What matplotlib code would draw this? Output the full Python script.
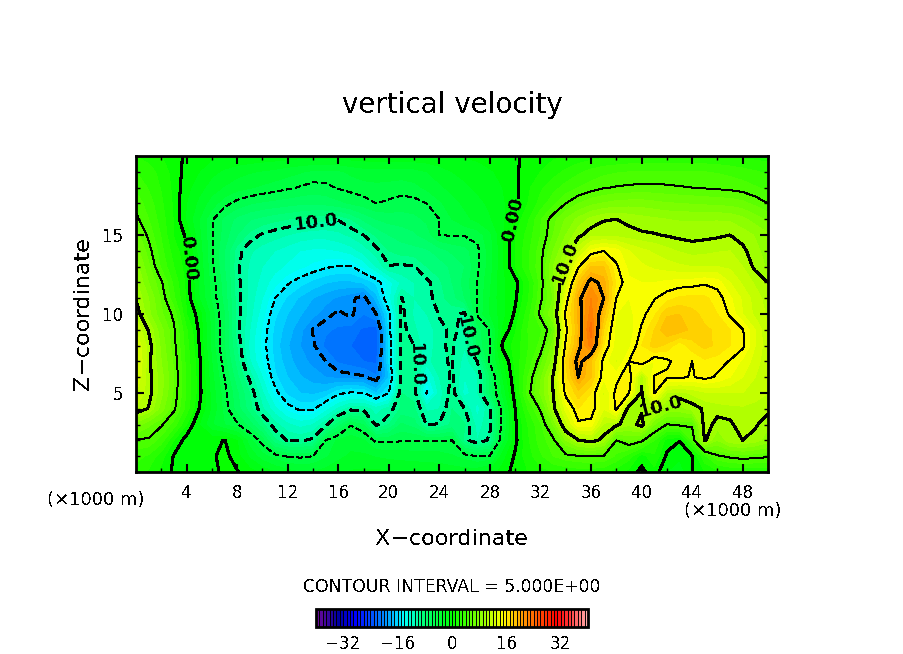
import numpy as np
import matplotlib
matplotlib.use("Agg")
import matplotlib.pyplot as plt
from matplotlib.colors import LinearSegmentedColormap

plt.rcParams["font.family"] = ["DejaVu Sans"]
plt.rcParams["text.antialiased"] = False

# vertical velocity, one list per height (km), x = 0..50 km
w_z00 = [2.5,1.8,.7,-.2,-.7,-.8,-.4,.3,.1,-.6,-1.3,-2,-2.6,-3,-2.9,-2.6,-2.2,-1.9,-1.8,-1.8,-1.9,-2,-2.1,-2.2,-2.3,-2.4,-2.5,-2.4,-1.7,-.5,.4,1,1.6,2,2.2,2.4,2.4,2.2,1.4,.6,-.3,.6,-1,-1.6,0,1,1.6,2,2.1,2.1,2]
w_z01 = [3.4,2.8,1.4,-.1,-.8,-.8,-.2,.4,-.6,-2.2,-3.6,-4.5,-5.1,-5.2,-5,-4.2,-3.3,-2.8,-2.8,-3.1,-3.3,-3.4,-3.5,-3.5,-3.6,-3.9,-4.4,-5,-4.8,-1.5,.2,1.5,2.8,4,4.6,4.9,5,4.9,3.8,2.5,.5,1.8,-.2,-.8,-.1,2.8,4.8,5.3,5.6,5.4,5.2]
w_z02 = [4.8,4.8,3.5,1,-.5,-.9,-.3,.05,-1,-3.6,-5.5,-8.8,-10.1,-10.2,-9.7,-5,-3.8,-3.5,-3.9,-5.3,-5.2,-5.1,-5.1,-5.1,-5.1,-5,-9.5,-11,-9.7,-3.5,-.3,1.8,3.5,4.6,8,9.9,10.5,9.6,5,6,5.3,3,.5,.05,4,10.2,8,9.6,10,9.4,8.5]
w_z03 = [7.5,6.2,5.2,3.5,1,-1,-2.9,-4,-4.8,-6.5,-8.7,-10.6,-11.8,-12.4,-12,-10.3,-7.5,-5.1,-6,-10.3,-9,-6.8,-7.5,-10.1,-9.9,-8.8,-8.9,-11.5,-10.3,-4.3,-.2,2,3.8,7,11.5,14.7,14.5,10.8,10.3,9.2,10.5,7,4.9,5.3,5.2,10.7,9.5,9.7,10.8,10.2,9.2]
w_z04 = [10.8,9.9,7.5,5.3,2.5,0,-2.2,-4.4,-6.5,-8.6,-10.8,-12.7,-14.4,-15.3,-15.2,-13.5,-11.8,-10.4,-10.4,-11.5,-10.6,-8.8,-8.8,-11.2,-11,-9,-10,-12.5,-10.2,-4,0,3,5.2,9.5,13.4,16,15.8,13,15.3,9,9.8,10.6,8.8,8.6,9.4,10.2,10.5,10.7,10.8,10.6,10.4]
w_z05 = [12,10.5,8.3,5.8,2.8,.4,-2.4,-4.6,-6.8,-9,-11.8,-14.5,-16.3,-17,-17.2,-16.8,-15.3,-14.8,-14.9,-17,-15,-9,-9.3,-15.2,-11.6,-9.4,-12.5,-11.2,-7,-2.8,.6,4.5,7.2,10,15.5,17.6,16,12.8,15.4,15.1,9.8,15.1,11,10.7,11.2,11.8,12,12,12,11.5,11]
w_z06 = [13,10.4,8.4,6,2.8,.4,-2.7,-5,-7.7,-10.3,-13,-15.8,-17,-17.9,-18.5,-19,-19.3,-19.5,-19.8,-20.8,-17,-9.5,-9.8,-13.5,-11,-9.8,-12,-11.2,-7,-2,1,4,6.8,10.2,16.5,20,18,14.2,14.6,16,10.3,15.1,15.3,15.2,14.9,15.4,14.8,14,13,12,11]
w_z07 = [13.5,10.4,8,5.8,2.6,.3,-3,-5.6,-8.5,-11.9,-14.1,-16.2,-17.6,-18.6,-19.3,-20,-21.2,-21.6,-22,-22.2,-16,-9.4,-9.8,-11.5,-10.2,-9.9,-11.5,-10,-4.7,-1.2,1.3,3.2,5.6,8.5,17,20.8,18,14.6,12.8,15,16,14,14.7,15.6,15,15.8,15.5,14.9,13.8,12.5,11.2]
w_z08 = [13,10.6,7.7,5.4,2.4,0,-3.4,-6,-9.1,-12.3,-14.4,-16.5,-17.9,-19,-19.8,-21.3,-21.8,-22,-22.6,-22.9,-16,-9.4,-10,-12,-10.1,-9.9,-10.9,-6.7,-5,.3,1.3,2.9,4.3,7.5,15.4,19.4,22.5,16,13.5,13.7,16,17.5,16.7,15.3,16.6,17.3,16.8,16,15.3,13,11.2]
w_z09 = [11.8,9.9,7.3,5.2,2.1,-.2,-3.4,-6,-9.6,-12,-14.2,-16.3,-17.5,-18.7,-20.1,-20.8,-21.2,-21.5,-22.2,-22.5,-15.8,-9.5,-10.8,-11.8,-10.3,-9.8,-10.3,-6.5,-4.9,-.9,.9,3,3.8,6.1,14.5,19,23.5,17,13.5,13.3,15.2,17,19,18.6,17.7,17.2,16.8,16,15.1,13,11]
w_z10 = [10.8,8.3,6.2,4.7,1,-.4,-3.5,-6,-9.4,-11.6,-13.6,-15.8,-17,-17.9,-18.7,-19.5,-20.3,-19.7,-21,-20,-15.5,-9.6,-11.2,-11,-9.9,-9.6,-10.3,-4.8,-3,-1.4,.2,2.5,5.4,8,15.5,19.3,22.5,18.5,14,13.7,14.6,15.8,17.8,18,17.4,16.6,16,14.8,13,11.7,10.8]
w_z11 = [9.9,8,5.8,3.2,.8,-2,-4.2,-6.4,-9.5,-11.4,-13,-15,-16.2,-17.2,-18,-18.6,-19.2,-19.7,-20.6,-17.5,-13.5,-9.9,-11,-10.5,-9.4,-8.5,-7,-5,-3,-1.2,-.2,1.8,4.7,7,14,19.5,22,20,15,14,14.4,14.9,15.6,16.2,16.3,16.2,15.6,14.2,12.8,11.5,10.5]
w_z12 = [9.3,7,5.2,2.7,.7,-2.2,-4.4,-6.6,-9.6,-11.3,-12.4,-13.6,-14.8,-15.6,-16.3,-16.9,-17.2,-17.2,-16.8,-15.8,-13.5,-11.8,-11,-10.3,-9.2,-8,-6.6,-5,-3.2,-1.2,-.4,1.6,4.4,7.8,12,18,20.6,19.5,15.8,14.2,14,14,14.2,14.4,14.5,14.8,14.5,13,11.8,10.8,10]
w_z13 = [8.5,6.2,3.8,2,.5,-2.3,-4.7,-7,-9.7,-11.2,-12,-12.6,-13.2,-13.8,-14.3,-14.8,-15.1,-15.1,-13.8,-12,-10.1,-10.2,-10.1,-9,-8.5,-7.8,-7,-5.2,-3.5,-1.2,1,2.8,4.7,8,10.4,14.8,18,18,15.2,13.7,13.2,12.8,12.5,12.2,12,12,12,11.8,11,9.7,8.8]
w_z14 = [7.5,5.5,3.3,1.5,.2,-2.5,-4.8,-7,-9.5,-10.8,-11.5,-12,-12.5,-13,-13.2,-13.2,-13,-12.5,-11.6,-10.4,-9,-8.5,-8.4,-8.2,-7.5,-6.8,-6.4,-5.3,-3.5,-1.2,1,2.7,4.5,7,9.2,11.6,14.2,15,14.4,13,12.3,11.8,11.3,10.9,10.6,10.7,10.9,11,10.3,9.3,8.5]
w_z15 = [6.5,4.7,2.9,.9,-.2,-2.8,-4.8,-6.5,-8,-9.3,-10.2,-10.6,-11,-11.4,-11.6,-11.6,-11.3,-10.8,-10,-8.8,-8,-7.6,-7.2,-6.5,-5,-4.9,-4.9,-4.6,-3.3,-1.2,.9,2.4,4,6,8,9.7,10.6,10.7,10.6,10.4,10.2,10.1,9.9,9.7,9.6,9.7,9.8,10,9.5,8.9,8.2]
w_z16 = [5.3,4,2.5,.9,-1.2,-3,-4.8,-6.3,-7.3,-7.9,-8.3,-8.7,-9,-9.3,-9.6,-9.8,-9.9,-9,-7.8,-7,-6.6,-6.5,-6.3,-5.8,-5,-4,-3.3,-2.7,-2.1,-1.3,.3,1.8,3.9,5.6,7.1,8.3,9.3,9.9,10,9.7,9.4,9.2,9,8.9,8.9,8.9,8.9,8.8,8.3,7.5,6.8]
w_z17 = [4.6,3.5,2.2,.8,-1,-2.3,-3.5,-4.6,-5.4,-5.9,-6.2,-6.4,-6.6,-6.8,-6.9,-6.7,-6.3,-5.9,-5.5,-5,-5.2,-5.5,-5.4,-5,-4.2,-3.4,-2.8,-2.3,-1.8,-1.2,-.3,1,2.4,3.7,5,6,6.7,7.1,7.4,7.5,7.5,7.3,7.1,7,6.9,6.8,6.7,6.6,6.3,5.7,5]
w_z18 = [3.8,2.9,1.9,.7,-.7,-1.6,-2.5,-3.1,-3.6,-3.9,-4.2,-4.5,-4.8,-5.1,-5.4,-5.3,-4.9,-4.6,-4.4,-4.3,-4.4,-4.5,-4.3,-3.8,-3.2,-2.7,-2.2,-1.8,-1.4,-1,-.3,.8,1.8,2.6,3.4,4,4.5,4.9,5.1,5.2,5.3,5.3,5.2,5.1,5,4.9,4.8,4.7,4.5,4.1,3.7]
w_z19 = [3,2.5,1.6,.6,-.4,-1,-1.7,-2.2,-2.6,-2.9,-3.1,-3.3,-3.6,-3.9,-4.2,-4.3,-4.2,-3.8,-3.5,-3.4,-3.4,-3.5,-3.4,-3,-2.5,-2,-1.7,-1.4,-1.1,-.8,-.2,.5,1,1.6,2.2,2.8,3.3,3.7,3.9,4,4.1,4.1,4.1,4.1,4.1,4,3.9,3.7,3.4,3.1,2.8]
w_z20 = [2,1.5,1,.4,-.2,-.5,-.8,-1,-1.1,-1.2,-1.3,-1.4,-1.5,-1.6,-1.6,-1.6,-1.5,-1.4,-1.3,-1.3,-1.3,-1.3,-1.2,-1.2,-1.1,-1,-.9,-.8,-.6,-.4,-.1,.2,.5,.8,1,1.3,1.5,1.7,1.8,2,2,2,2,2,2,2,1.9,1.8,1.7,1.6,1.5]

x_km = list(range(0, 51))
z_km = list(range(0, 21))
x_ticks = [4, 8, 12, 16, 20, 24, 28, 32, 36, 40, 44, 48]
z_ticks = [5, 10, 15]
bar_ticks = [-32, -16, 0, 16, 32]

thin_levels = [-15, -5, 5, 15]
thick_levels = [-20, -10, 0, 10, 20]

# (level, x, z) of the inline contour labels
label_spots = [
    (0, 4.1, 13.5), (-10, 14.3, 15.6), (-10, 22.2, 6.8), (-10, 26.2, 8.5),
    (0, 29.7, 16.0), (10, 33.9, 13.3), (10, 41.2, 4.4),
]

# colour table of the bar: position on -40..40 and colour
cmap_anchors = [
    (-40, "#6a0a9a"), (-34, "#0000a0"), (-29, "#0000ff"), (-24, "#0050ff"),
    (-19, "#00a0ff"), (-14.5, "#00ffff"), (-8.6, "#00ff78"), (0, "#00ff00"),
    (8, "#82ff00"), (15, "#ffff00"), (20, "#ffaa00"), (25.7, "#ff5000"),
    (31, "#ff0000"), (35, "#ff3c3c"), (40, "#ffaaaa"),
]

W = np.array([w_z00, w_z01, w_z02, w_z03, w_z04, w_z05, w_z06, w_z07, w_z08, w_z09, w_z10,
              w_z11, w_z12, w_z13, w_z14, w_z15, w_z16, w_z17, w_z18, w_z19, w_z20])

cmap = LinearSegmentedColormap.from_list(
    "ncar", [((v + 40) / 80, c) for v, c in cmap_anchors], N=80)

fig = plt.figure(figsize=(9.04, 6.54), dpi=100)
fw, fh = 904.0, 654.0
ax = fig.add_axes([136 / fw, 1 - 472 / fh, 632 / fw, 316 / fh])

cf = ax.contourf(x_km, z_km, W, levels=np.arange(-40, 41, 1), cmap=cmap, antialiased=False)


def draw_level(level, lw, dash):
    ls = "solid" if level >= 0 else [(0, dash)]
    return ax.contour(x_km, z_km, W, levels=[level], colors="k", linewidths=lw,
                      linestyles=ls, antialiased=False)


def label_text(v):
    return "0.00" if v == 0 else f"{abs(v):.1f}"


for lev in thin_levels:
    draw_level(lev, 0.7, (6, 3.5))
for lev in thick_levels:
    cs = draw_level(lev, 1.5, (4.2, 2.5))
    spots = [(x, z) for l, x, z in label_spots if l == lev]
    if spots:
        for t in ax.clabel(cs, manual=spots, fmt=label_text, fontsize=13, inline=True, inline_spacing=2):
            t.set_fontweight("bold")

ax.set_xlim(0, 50)
ax.set_ylim(0, 20)
ax.set_xticks(x_ticks)
ax.set_yticks(z_ticks)
ax.set_xticks(x_km[2::4], minor=True)
ax.set_yticks(z_km, minor=True)
ax.tick_params(which="major", direction="in", top=True, right=True, length=6, width=1.5,
               labelsize=12, pad=9)
ax.tick_params(which="minor", direction="in", top=True, right=True, length=3, width=1)
for s in ax.spines.values():
    s.set_linewidth(2)

fig.text(452 / fw, 1 - 105 / fh, "vertical velocity", ha="center", va="center", fontsize=20)
fig.text(452 / fw, 1 - 539 / fh, "X\u2212coordinate", ha="center", va="center", fontsize=16)
fig.text(83 / fw, 1 - 314 / fh, "Z\u2212coordinate", ha="center", va="center", rotation=90, fontsize=16)
fig.text(96 / fw, 1 - 500 / fh, "(\u00d71000 m)", ha="center", va="center", fontsize=13)
fig.text(733 / fw, 1 - 511 / fh, "(\u00d71000 m)", ha="center", va="center", fontsize=13)
fig.text(452 / fw, 1 - 587 / fh, "CONTOUR INTERVAL = 5.000E+00", ha="center", va="center", fontsize=12.4)

cax = fig.add_axes([316 / fw, 1 - 627 / fh, 272 / fw, 18 / fh])
cbar = fig.colorbar(cf, cax=cax, orientation="horizontal", drawedges=True)
cbar.dividers.set_color("k")
cbar.dividers.set_linewidth(0.7)
cbar.outline.set_linewidth(2)
cbar.set_ticks(bar_ticks)
cbar.ax.tick_params(length=0, labelsize=12, pad=6)

fig.savefig("out.png", dpi=100)
